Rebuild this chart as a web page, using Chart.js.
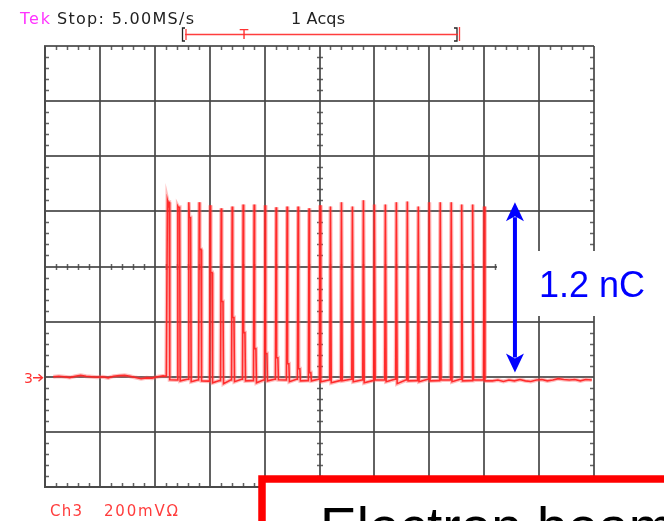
<!DOCTYPE html>
<html>
<head>
<meta charset="utf-8">
<script src="https://cdn.jsdelivr.net/npm/chart.js@4.4.1/dist/chart.umd.min.js"></script>
<style>
  html, body { margin: 0; padding: 0; background: #fff; }
  #wrap { width: 664px; height: 521px; position: relative; overflow: hidden; }
  canvas { display: block; }
</style>
</head>
<body>
<div id="wrap"><canvas id="scope" width="664" height="521"></canvas></div>
<script>
// Ch3 trace, time in graticule divisions, amplitude in mV (200 mV/div)
const preTimes  = [0.15, 0.25, 0.35, 0.45, 0.55, 0.65, 0.75, 0.85, 0.95, 1.05, 1.15, 1.25, 1.35, 1.45, 1.55, 1.65, 1.75, 1.85, 1.95, 2.05, 2.15, 2.21];
const preValues = [0, 2, 0, -3, 2, 5, 2, 0, -2, 0, -4, 2, 4, 5, 2, -3, -7, -4, -5, 0, 3, 2];

// bunch train: arrival time, peak, slow tail level right after the spike (0 = none)
const pulseTimes = [2.23, 2.42, 2.62, 2.81, 3.01, 3.21, 3.41, 3.61, 3.81, 4.01,
                    4.21, 4.41, 4.61, 4.81, 5.01, 5.20, 5.40, 5.60, 5.80, 6.00,
                    6.20, 6.40, 6.60, 6.80, 7.00, 7.20, 7.40, 7.59, 7.79, 8.00];
const pulsePeaks = [640, 618, 633, 633, 622, 611, 618, 625, 625, 622,
                    615, 618, 618, 611, 622, 618, 633, 618, 640, 625,
                    625, 633, 636, 618, 633, 633, 633, 625, 625, 618];
const pulseTails = [633, 615, 578, 462, 378, 273, 215, 160, 102, 84,
                    69, 47, 29, 15, 0, 0, 0, 0, 0, 0,
                    0, 0, 0, 0, 0, 0, 0, 0, 0, 0];
// baseline just after each pulse and just before the next one
const gapAfter  = [-11, -15, -18, -15, -22, -25, -18, -15, -22, -15,
                   -11, -18, -15, -15, -18, -22, -15, -18, -22, -11,
                   -18, -25, -15, -18, -15, -11, -18, -15, -11, -15];
const gapBefore = [-12, -9, -12, -16, -14, -12, -9, -14, -12, -9,
                   -12, -9, -14, -9, -12, -14, -9, -12, -14, -12,
                   -9, -12, -14, -9, -14, -12, -9, -14, -12];

const postTimes  = [8.15, 8.25, 8.35, 8.45, 8.55, 8.65, 8.75, 8.85, 8.95, 9.05,
                    9.15, 9.25, 9.35, 9.45, 9.55, 9.65, 9.75, 9.85, 9.96];
const postValues = [-15, -12, -17, -12, -15, -10, -15, -17, -12, -10,
                    -15, -12, -7, -10, -12, -10, -15, -10, -12];

// 1.2 nC marker (mV levels and time position)
const markerTop = 633;
const markerBottom = 15;
const markerTime = 8.56;

// graticule: 10 x 8 divisions
const xDivs = [0, 10];
const yRange = [-400, 1200];
const yDiv = 200;
const ch3Ground = 0;

const gridColor = 'rgba(70,70,70,0.85)';

// assemble the trace from the arrays above
const trace = [];
preTimes.forEach((t, i) => trace.push({ x: t, y: preValues[i] }));
pulseTimes.forEach((t, i) => {
  const prev = i === 0 ? preValues[preValues.length - 1] : gapBefore[i - 1];
  trace.push({ x: t - 0.012, y: prev });
  trace.push({ x: t, y: pulsePeaks[i] });
  if (pulseTails[i] > 0) {
    trace.push({ x: t + 0.008, y: pulseTails[i] });
    trace.push({ x: t + 0.032, y: pulseTails[i] });
    trace.push({ x: t + 0.042, y: gapAfter[i] });
  } else {
    trace.push({ x: t + 0.014, y: gapAfter[i] });
  }
  if (i < pulseTimes.length - 1) {
    trace.push({ x: pulseTimes[i + 1] - 0.03, y: gapBefore[i] });
  }
});
postTimes.forEach((t, i) => trace.push({ x: t, y: postValues[i] }));

function spacedText(ctx, text, x, y, width) {
  ctx.letterSpacing = '0px';
  const m = ctx.measureText(text).width;
  const s = text.length > 1 ? (width - m) / (text.length - 1) : 0;
  ctx.letterSpacing = s.toFixed(2) + 'px';
  ctx.fillText(text, x, y);
  ctx.letterSpacing = '0px';
}

const scopeDecor = {
  id: 'scopeDecor',
  beforeDatasetsDraw(chart) {
    const { ctx, chartArea: a, scales: { x, y } } = chart;
    const cx = Math.round(x.getPixelForValue(5));
    const cy = Math.round(y.getPixelForValue((yRange[0] + yRange[1]) / 2));
    const L = 4;
    ctx.save();
    ctx.strokeStyle = gridColor;
    ctx.lineWidth = 1.5;
    ctx.beginPath();
    for (let k = 1; k < 50; k++) {
      if (k % 5 === 0) continue;
      const px = Math.round(x.getPixelForValue(k * 0.2)) + 0.5;
      ctx.moveTo(px, a.top); ctx.lineTo(px, a.top + L);
      ctx.moveTo(px, a.bottom); ctx.lineTo(px, a.bottom - L);
      ctx.moveTo(px, cy - L + 1); ctx.lineTo(px, cy + L - 1);
    }
    for (let k = 1; k < 40; k++) {
      if (k % 5 === 0) continue;
      const py = Math.round(y.getPixelForValue(yRange[0] + k * yDiv / 5)) + 0.5;
      ctx.moveTo(a.left, py); ctx.lineTo(a.left + L, py);
      ctx.moveTo(a.right, py); ctx.lineTo(a.right - L, py);
      ctx.moveTo(cx - L + 1, py); ctx.lineTo(cx + L - 1, py);
    }
    ctx.stroke();
    ctx.restore();
  },
  afterDraw(chart) {
    const { ctx, scales: { x, y } } = chart;
    ctx.save();

    // header line
    ctx.textBaseline = 'alphabetic';
    ctx.font = '16px "DejaVu Sans"';
    ctx.fillStyle = '#ff33ff';
    spacedText(ctx, 'Tek', 20, 24, 30);
    ctx.fillStyle = '#222';
    spacedText(ctx, 'Stop: 5.00MS/s', 57, 24, 137);
    spacedText(ctx, '1 Acqs', 291, 24, 54);

    // record / trigger position bar
    ctx.strokeStyle = '#222';
    ctx.lineWidth = 1.3;
    ctx.beginPath();
    ctx.moveTo(185, 28); ctx.lineTo(182.5, 28); ctx.lineTo(182.5, 41); ctx.lineTo(185, 41);
    ctx.moveTo(454, 28); ctx.lineTo(457, 28); ctx.lineTo(457, 41); ctx.lineTo(454, 41);
    ctx.stroke();
    ctx.strokeStyle = 'rgba(255,40,40,0.9)';
    ctx.lineWidth = 1.3;
    ctx.beginPath();
    ctx.moveTo(185, 34.5); ctx.lineTo(458, 34.5);
    ctx.moveTo(186, 29); ctx.lineTo(186, 40);
    ctx.moveTo(459.5, 27); ctx.lineTo(459.5, 41);
    ctx.stroke();
    ctx.fillStyle = 'rgba(255,40,40,0.95)';
    ctx.font = '14px "DejaVu Sans"';
    ctx.textAlign = 'center';
    ctx.fillText('T', 244, 39);
    ctx.textAlign = 'left';

    // channel 3 ground marker
    const gy = y.getPixelForValue(ch3Ground) + 1;
    ctx.fillStyle = 'rgba(255,40,40,0.95)';
    ctx.font = '14px "DejaVu Sans"';
    ctx.fillText('3', 24, gy + 5);
    ctx.strokeStyle = 'rgba(255,40,40,0.95)';
    ctx.lineWidth = 1.4;
    ctx.beginPath();
    ctx.moveTo(33, gy); ctx.lineTo(42, gy);
    ctx.moveTo(38.5, gy - 3.5); ctx.lineTo(42.5, gy); ctx.lineTo(38.5, gy + 3.5);
    ctx.stroke();

    // channel readout
    ctx.fillStyle = 'rgba(255,50,50,0.95)';
    ctx.font = '15px "DejaVu Sans"';
    spacedText(ctx, 'Ch3', 50, 516, 32);
    spacedText(ctx, '200mV\u03A9', 104, 516, 74);

    // label panel
    ctx.fillStyle = '#fff';
    ctx.fillRect(497, 251, 664 - 497, 65);

    // 1.2 nC double arrow
    const ax = x.getPixelForValue(markerTime);
    const aTop = y.getPixelForValue(markerTop);
    const aBot = y.getPixelForValue(markerBottom);
    const headL = 19, headW = 9;
    ctx.fillStyle = '#0000ff';
    ctx.strokeStyle = '#0000ff';
    ctx.lineWidth = 4;
    ctx.beginPath();
    ctx.moveTo(ax, aTop + headL - 4); ctx.lineTo(ax, aBot - headL + 4);
    ctx.stroke();
    ctx.beginPath();
    ctx.moveTo(ax, aTop);
    ctx.lineTo(ax + headW, aTop + headL);
    ctx.lineTo(ax, aTop + headL - 5);
    ctx.lineTo(ax - headW, aTop + headL);
    ctx.closePath();
    ctx.fill();
    ctx.beginPath();
    ctx.moveTo(ax, aBot);
    ctx.lineTo(ax + headW, aBot - headL);
    ctx.lineTo(ax, aBot - headL + 5);
    ctx.lineTo(ax - headW, aBot - headL);
    ctx.closePath();
    ctx.fill();

    ctx.font = '36px "Liberation Sans"';
    ctx.fillText('1.2 nC', 539, 297);

    // caption panel
    ctx.fillStyle = '#fff';
    ctx.fillRect(262, 479, 420, 60);
    ctx.strokeStyle = '#ff0000';
    ctx.lineWidth = 7.5;
    ctx.strokeRect(262, 479, 420, 80);
    ctx.fillStyle = '#000';
    ctx.font = '55px "Liberation Sans"';
    ctx.fillText('Electron beam', 320, 546);

    ctx.restore();
  }
};

new Chart(document.getElementById('scope'), {
  type: 'line',
  data: {
    datasets: [
      {
        data: trace,
        borderColor: 'rgba(255,90,90,0.4)',
        borderWidth: 4,
        pointRadius: 0,
        tension: 0
      },
      {
        data: trace,
        borderColor: 'rgba(255,0,0,0.95)',
        borderWidth: 1.6,
        pointRadius: 0,
        tension: 0
      }
    ]
  },
  options: {
    responsive: false,
    animation: false,
    devicePixelRatio: 1,
    layout: { padding: { left: 45, right: 70, top: 46, bottom: 34 } },
    plugins: { legend: { display: false }, tooltip: { enabled: false } },
    scales: {
      x: {
        type: 'linear',
        min: xDivs[0], max: xDivs[1],
        ticks: { display: false, stepSize: 1 },
        grid: { color: gridColor, lineWidth: 2, drawTicks: false },
        border: { display: true, color: gridColor, width: 2 }
      },
      y: {
        type: 'linear',
        min: yRange[0], max: yRange[1],
        ticks: { display: false, stepSize: yDiv },
        grid: { color: gridColor, lineWidth: 2, drawTicks: false },
        border: { display: true, color: gridColor, width: 2 }
      }
    }
  },
  plugins: [scopeDecor]
});
</script>
</body>
</html>
